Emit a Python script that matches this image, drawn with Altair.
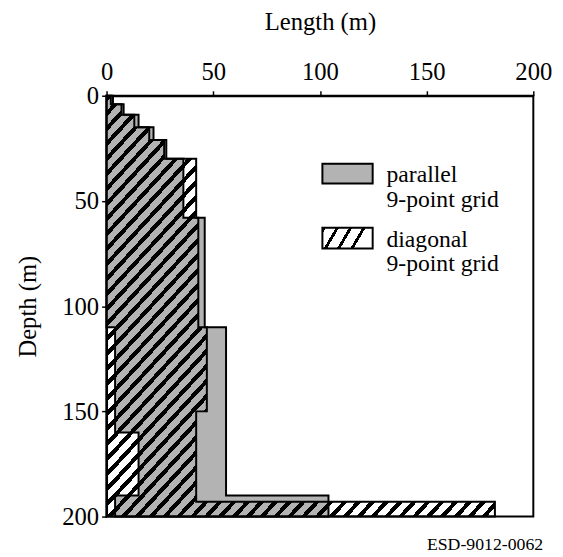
import altair as alt
import pandas as pd

# ---- data (depth bins in m, lengths in m) ----
par_top = [0, 4, 9, 15, 21, 30, 58, 110, 160, 190]
par_bottom = [4, 9, 15, 21, 30, 58, 110, 160, 190, 200]
par_start = [0, 0, 0, 0, 0, 0, 0, 4, 15, 4]
par_end = [3, 8, 15, 22, 28, 36, 46, 56, 56, 104]

diag_top = [0, 4, 9, 15, 21, 30, 58, 110, 150, 193]
diag_bottom = [4, 9, 15, 21, 30, 58, 110, 150, 193, 200]
diag_start = [0, 0, 0, 0, 0, 0, 0, 0, 0, 0]
diag_end = [2, 7, 13, 20, 27, 42, 43, 47, 42, 182]

tick_values = [0, 50, 100, 150, 200]
legend_parallel = ["parallel", "9-point grid"]
legend_diagonal = ["diagonal", "9-point grid"]
code_label = ["ESD-9012-0062"]


def outline(tops, bottoms, starts, ends):
    rows = []
    for t, b, s, e in zip(tops, bottoms, starts, ends):
        rows.append({"depth": t, "len": e, "len0": s})
        rows.append({"depth": b, "len": e, "len0": s})
    return pd.DataFrame(rows)


def hatch(n, frac, x2=1.0, y2=1.0):
    stops = []
    clear = "rgba(255,255,255,0)"
    for k in range(n):
        a, b, c = k / n, (k + frac) / n, (k + 1) / n
        stops += [
            {"offset": a, "color": "black"},
            {"offset": b, "color": "black"},
            {"offset": b, "color": clear},
            {"offset": c, "color": clear},
        ]
    return {"gradient": "linear", "x1": 0, "y1": 0, "x2": x2, "y2": y2, "stops": stops}


FONT = "Liberation Serif"
GRAY = "#b3b3b3"
FS = 25
LFS = 24

par_df = outline(par_top, par_bottom, par_start, par_end)
diag_df = outline(diag_top, diag_bottom, diag_start, diag_end)

x_scale = alt.Scale(domain=[0, 200], nice=False)
y_scale = alt.Scale(domain=[0, 200], reverse=True, nice=False)

common = dict(grid=False, labelFontSize=FS, titleFontSize=FS, labelFont=FONT, titleFont=FONT,
              titleFontWeight="normal", labelColor="black", titleColor="black",
              tickColor="black", tickSize=5, tickWidth=1.5, domainColor="black",
              domainWidth=2, labelFlush=False)
x_axis = alt.Axis(orient="top", values=tick_values, title="Length (m)",
                  labelPadding=6, titlePadding=26, **common)
y_axis = alt.Axis(orient="left", values=tick_values, title="Depth (m)",
                  labelPadding=3, titlePadding=22, **common)


def profile(df, fill):
    return alt.Chart(df).mark_area(
        orient="horizontal", fill=fill, stroke="black", strokeWidth=2,
        interpolate="linear"
    ).encode(
        x=alt.X("len:Q", scale=x_scale, axis=x_axis),
        x2="len0:Q",
        y=alt.Y("depth:Q", scale=y_scale, axis=y_axis),
    )


par_layer = profile(par_df, GRAY)
diag_layer = profile(diag_df, hatch(56, 0.4))

leg_df = pd.DataFrame({
    "par": ["\n".join(legend_parallel)],
    "diag": ["\n".join(legend_diagonal)],
    "code": code_label,
})

sw_par = alt.Chart(leg_df).mark_rect(fill=GRAY, stroke="black", strokeWidth=2).encode(
    x=alt.value(219), x2=alt.value(270), y=alt.value(69), y2=alt.value(89))
sw_diag = alt.Chart(leg_df).mark_rect(
    fill=hatch(4, 0.25, 1.0, 0.24), stroke="black", strokeWidth=2
).encode(x=alt.value(219), x2=alt.value(270), y=alt.value(134), y2=alt.value(155))

txt_par = alt.Chart(leg_df).mark_text(
    align="left", baseline="alphabetic", fontSize=LFS, font=FONT, lineBreak="\n",
    lineHeight=25, color="black"
).encode(x=alt.value(284), y=alt.value(88), text="par:N")
txt_diag = alt.Chart(leg_df).mark_text(
    align="left", baseline="alphabetic", fontSize=LFS, font=FONT, lineBreak="\n",
    lineHeight=25, color="black"
).encode(x=alt.value(284), y=alt.value(153), text="diag:N")
txt_code = alt.Chart(leg_df).mark_text(
    align="right", baseline="middle", fontSize=18, font=FONT, color="black"
).encode(x=alt.value(443), y=alt.value(456), text="code:N")

chart = alt.layer(
    par_layer, diag_layer, sw_par, sw_diag, txt_par, txt_diag, txt_code
).properties(
    width=433, height=427,
    padding={"left": 100, "top": 85, "right": 22, "bottom": 37},
    autosize=alt.AutoSizeParams(type="none"),
).configure(
    background="white", font=FONT
).configure_view(
    stroke="black", strokeWidth=2, fill="white"
)

chart.save("out.html", embed_options={"renderer": "svg", "actions": False})
